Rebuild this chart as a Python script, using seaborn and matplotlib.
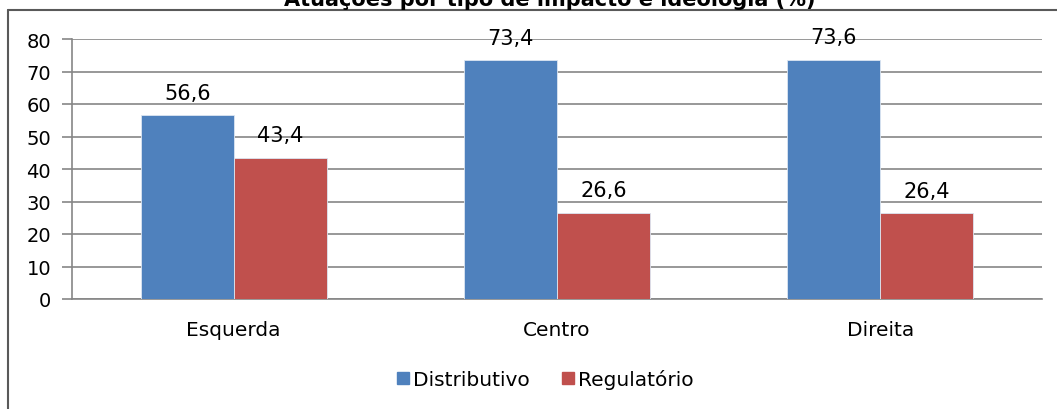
import matplotlib
matplotlib.use("Agg")
import matplotlib.pyplot as plt
import matplotlib.patches as mpatches
import pandas as pd
import seaborn as sns

CATEGORIES = ["Esquerda", "Centro", "Direita"]
SERIES = ["Distributivo", "Regulatório"]
DISTRIBUTIVO = [56.6, 73.4, 73.6]
REGULATORIO = [43.4, 26.6, 26.4]
Y_TICKS = [0, 10, 20, 30, 40, 50, 60, 70, 80]
TITLE = "Atuações por tipo de impacto e ideologia (%)"
COLORS = ["#4F81BD", "#C0504D"]

sns.set_theme(style="white")
plt.rcParams["font.family"] = ["DejaVu Sans"]
plt.rcParams["text.color"] = "black"

df = pd.DataFrame({
    "ideologia": CATEGORIES * 2,
    "tipo": [SERIES[0]] * 3 + [SERIES[1]] * 3,
    "valor": DISTRIBUTIVO + REGULATORIO,
})

fig = plt.figure(figsize=(10.57, 4.10), dpi=100)
ax = fig.add_axes([72 / 1057, 1 - 300 / 410, (1042 - 72) / 1057, 260 / 410])

sns.barplot(data=df, x="ideologia", y="valor", hue="tipo", palette=COLORS,
            width=0.575, saturation=1, ax=ax, legend=False, zorder=3,
            edgecolor="#dce6f2", linewidth=0.6)

for container in ax.containers:
    labels = [f"{b.get_height():.1f}".replace(".", ",") for b in container]
    ax.bar_label(container, labels=labels, padding=9, fontsize=15, color="black")

ax.set_ylim(0, 80)
ax.set_xlim(-0.5, 2.5)
ax.set_yticks(Y_TICKS)
ax.set_yticklabels([str(t) for t in Y_TICKS], fontsize=14, color="black")
ax.set_xticks(range(3))
ax.set_xticklabels(CATEGORIES, fontsize=14.5, color="black")
ax.set_xticks([-0.5, 0.5, 1.5, 2.5], minor=True)
ax.tick_params(axis="x", which="major", length=0, pad=15)
ax.tick_params(axis="x", which="minor", length=7, color="#868686", width=1.2)
ax.tick_params(axis="y", length=7, color="#868686", width=1.2, pad=8, left=True)
ax.set_xlabel("")
ax.set_ylabel("")
ax.yaxis.grid(True, color="#868686", linewidth=1.2, zorder=0)
ax.set_axisbelow(True)
for side in ["top", "right"]:
    ax.spines[side].set_visible(False)
for side in ["left", "bottom"]:
    ax.spines[side].set_color("#868686")
    ax.spines[side].set_linewidth(1.2)

handles = [mpatches.Patch(color=c, label=s) for c, s in zip(COLORS, SERIES)]
leg = fig.legend(handles=handles, loc="center", bbox_to_anchor=(545 / 1057, 1 - 380 / 410),
                 ncol=2, frameon=False, fontsize=14.5, handlelength=0.6, handleheight=0.6,
                 handletextpad=0.2, columnspacing=1.6)
for t in leg.get_texts():
    t.set_color("black")

# chart frame, partly outside the picture
fig.add_artist(plt.Line2D([8 / 1057, 8 / 1057], [0, 1 - 11 / 410], color="#595959", linewidth=1.5))
fig.add_artist(plt.Line2D([8 / 1057, 1], [1 - 11 / 410, 1 - 11 / 410], color="#595959", linewidth=1.5))
fig.text(550 / 1057, 1 - 6 / 410, TITLE, ha="center", va="baseline",
         fontsize=15, fontweight="bold", color="black")

fig.savefig("out.png", dpi=100)
